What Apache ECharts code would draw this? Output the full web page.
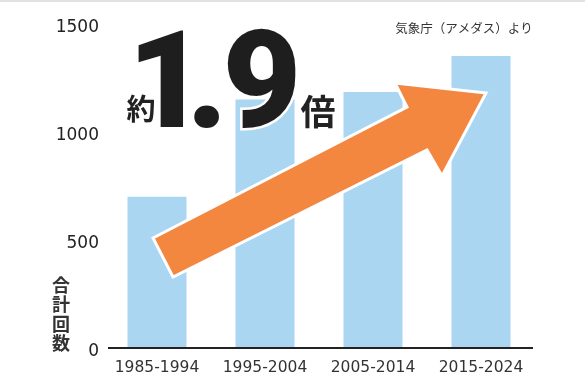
<!DOCTYPE html>
<html><head><meta charset="utf-8">
<script src="https://cdn.jsdelivr.net/npm/echarts@6/dist/echarts.min.js"></script>
<style>html,body{margin:0;padding:0;background:#fff}#c{width:585px;height:390px}</style>
</head><body><div id="c"></div>
<script>
const categories = ['1985-1994','1995-2004','2005-2014','2015-2024'];
const counts = [700, 1150, 1185, 1352];
const yTicks = [0, 500, 1000, 1500];
const yName = '合計回数';
const sourceText = '気象庁（アメダス）より';

const chart = echarts.init(document.getElementById('c'));
const CJK = '"Noto Sans CJK JP", "Noto Sans", sans-serif';
const NUM = '"DejaVu Sans", sans-serif';
chart.setOption({
  animation: false,
  backgroundColor: '#fff',
  grid: {left: 103, right: 50, top: 24, bottom: 42},
  xAxis: {
    type: 'category', data: categories,
    axisLine: {show: false},
    axisTick: {show: false},
    axisLabel: {color: '#333', fontSize: 15.5, fontFamily: NUM, margin: 12, interval: 0, hideOverlap: false}
  },
  yAxis: {
    type: 'value', min: yTicks[0], max: yTicks[yTicks.length-1], interval: 500,
    axisLine: {show: false}, axisTick: {show: false}, splitLine: {show: false},
    axisLabel: {color: '#222', fontSize: 17, fontFamily: NUM, margin: 4, verticalAlign: 'top', lineHeight: 7, formatter: v => String(v)}
  },
  series: [{
    type: 'bar', data: counts, barWidth: 59,
    itemStyle: {color: '#ABD6F2'}
  }],
  graphic: [
    {type: 'line', shape: {x1: 0, y1: 1, x2: 585, y2: 1}, style: {stroke: '#e2e2e2', lineWidth: 2}},
    {type: 'line', z: 5, shape: {x1: 108, y1: 348, x2: 533, y2: 348}, style: {stroke: '#222', lineWidth: 2}},
    {type: 'text', x: 464, y: 28, style: {text: sourceText, font: '12.5px ' + CJK, fill: '#333', align: 'center', verticalAlign: 'middle'}},
    {type: 'text', x: 61, y: 314, style: {text: yName.split('').join('\n'), font: 'bold 18px ' + CJK, lineHeight: 19.5, fill: '#333', align: 'center', verticalAlign: 'middle'}},
    {type: 'polygon', z: 10, shape: {points: [[153,238],[407,107],[395,83],[486,93],[442,176],[427,150],[173,277]]},
      style: {fill: '#F48740', stroke: '#fff', lineWidth: 3, lineJoin: 'miter'}},
    {type: 'text', z: 11, x: 141, y: 109, style: {text: '約', font: 'bold 29px ' + CJK, fill: '#222', align: 'center', verticalAlign: 'middle', stroke: '#fff', lineWidth: 3}},
    {type: 'text', z: 11, x: 167, y: 93, style: {text: '1', font: '900 136px Roboto, sans-serif', fill: '#1e1e1e', align: 'center', verticalAlign: 'middle', stroke: '#fff', lineWidth: 5}},
    {type: 'text', z: 11, x: 207, y: 93, style: {text: '.', font: '900 136px Roboto, sans-serif', fill: '#1e1e1e', align: 'center', verticalAlign: 'middle', stroke: '#fff', lineWidth: 5}},
    {type: 'text', z: 11, x: 262, y: 93, style: {text: '9', font: '900 136px Roboto, sans-serif', fill: '#1e1e1e', align: 'center', verticalAlign: 'middle', stroke: '#fff', lineWidth: 5}},
    {type: 'text', z: 11, x: 318, y: 112, style: {text: '倍', font: 'bold 35px ' + CJK, fill: '#222', align: 'center', verticalAlign: 'middle', stroke: '#fff', lineWidth: 3}}
  ]
});
</script></body></html>
